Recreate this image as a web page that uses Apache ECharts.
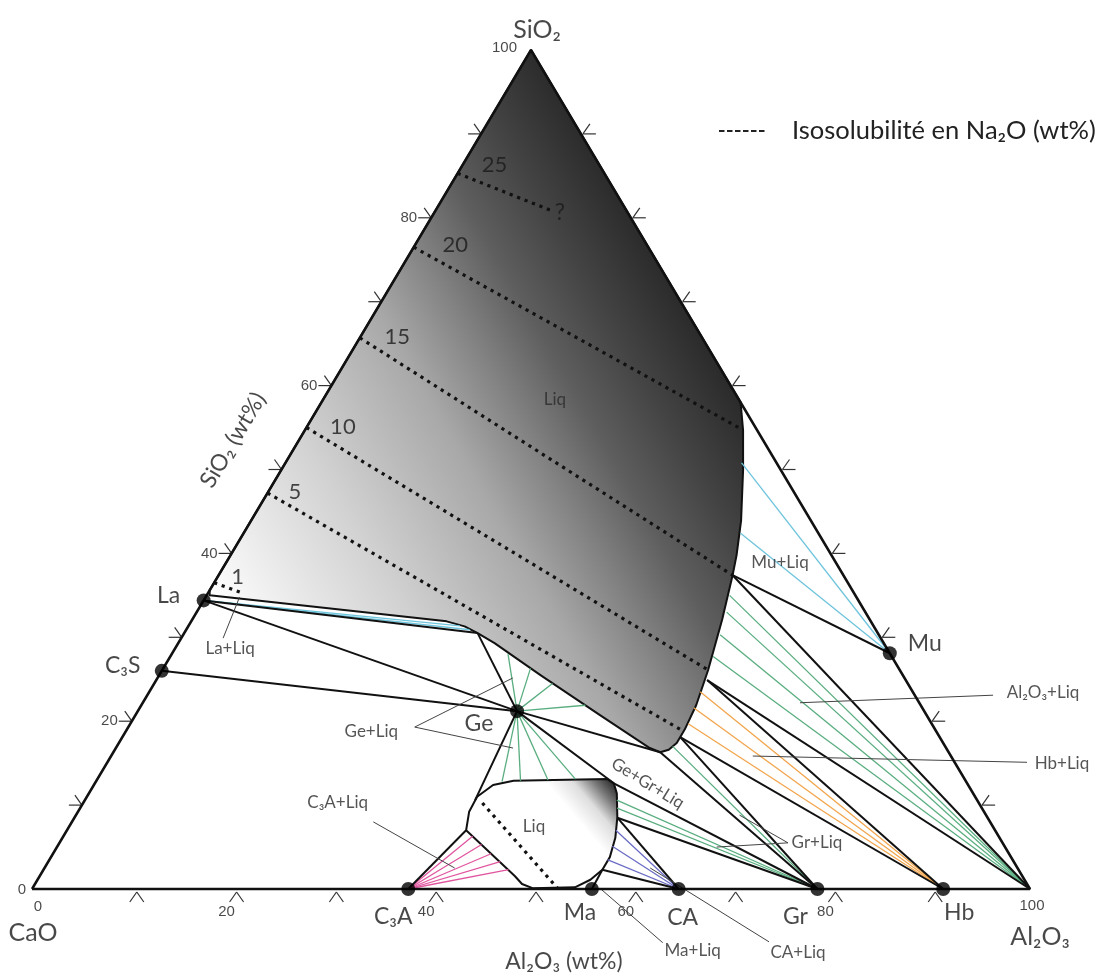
<!DOCTYPE html>
<html><head><meta charset="utf-8">
<script src="https://cdn.jsdelivr.net/npm/echarts@6/dist/echarts.min.js"></script>
<style>html,body{margin:0;padding:0;background:#fff}#c{width:1105px;height:976px}</style>
</head><body><div id="c"></div>
<script>
// All compositions are [Al2O3 wt%, SiO2 wt%]; CaO = 100 - Al2O3 - SiO2
const ISO_NAME = 'Isosolubilité en Na₂O (wt%)';
const cornerNames = ['CaO', 'Al₂O₃', 'SiO₂'];
const cornerComp = [[0, 0], [100, 0], [0, 100]];
const phaseNames = ['La', 'C₃S', 'Ge', 'Mu', 'C₃A', 'Ma', 'CA', 'Gr', 'Hb'];
const phaseComp = [[0, 34.4], [0, 26.0], [38.0, 21.2], [71.9, 28.1], [37.7, 0], [56.1, 0], [64.8, 0], [78.7, 0], [91.3, 0]];
const tickValues = [10, 20, 30, 40, 50, 60, 70, 80, 90];
const tickLabels = [0, 20, 40, 60, 80, 100];

// liquid fields
const liqMain = [[0, 35.6], [0, 100], [42, 58], [43.9, 54.7], [46.3, 49.9], [49.1, 43.9], [50.7, 39.8], [51.5, 37.4], [53.1, 32.1], [54.7, 26.1], [55.6, 21.9], [55.9, 19.0], [55.9, 17.4], [55.5, 16.6], [54.8, 16.3], [53.5, 16.8], [46.6, 20.7], [38.2, 25.5], [31.7, 29.3], [29.4, 30.5], [27.7, 31.3], [25.6, 31.9], [0.3, 35.0]];
const liqSmall = [[40.0, 7.0], [39.2, 9.2], [39.1, 11.0], [40.0, 12.4], [41.8, 12.9], [51.1, 13.1], [52.0, 12.6], [52.9, 11.4], [54.4, 8.5], [55.4, 6.1], [56.0, 3.8], [56.0, 2.3], [55.4, 1.1], [54.3, 0.2], [50.1, 0.1], [48.8, 0.6], [47.6, 1.55]];

// Na2O isosolubility lines
const isoLevels = ['25', '20', '15', '10', '5', '1'];
const isoLines = [[[0, 85.3], [11.5, 80.9]], [[0, 76.5], [43.5, 54.9]], [[0, 65.7], [51.5, 37.4]], [[0, 55.0], [54.7, 26.1]], [[0, 47.2], [55.5, 19.0]], [[0, 36.5], [3.4, 35.3]], [[40.0, 10.25], [52.6, 0.1]]];
const isoLabelPos = [[3.2, 86.3], [4.0, 76.8], [3.7, 65.8], [3.6, 55.1], [2.7, 47.3], [2.0, 37.2]];
const questionPos = [12.6, 80.6];

// liquid points at boundary corners
const L1 = [29.4, 30.5], L2 = [55.2, 24.9], L3 = [51.5, 37.4], L4 = [55.9, 18.1], L5 = [54.8, 16.3];
const S0 = [39.1, 10.6], SA = [40.0, 7.0], S1 = [52.0, 12.6], S2 = [54.4, 8.5], S3 = [56.0, 2.3];

// tie-line end points on the liquidus
const geLiq = [[33.7, 28.0], [36.8, 26.3], [39.9, 24.5], [44.5, 21.9], [40.7, 12.8], [42.5, 12.9], [45.2, 13.0], [47.9, 13.1]];
const al2o3Liq = [[52.4, 35.0], [53.1, 33.0], [53.8, 30.3], [54.4, 27.7]];
const grLiq = [[55.7, 17.0], [53.3, 10.6], [53.8, 9.65]];
const hbLiq = [[55.2, 23.5], [55.5, 21.6], [55.9, 19.7]];
const muLiq = [[45.7, 50.8], [49.8, 42.4]];
const laLiq = [[27.2, 31.35], [28.4, 30.9]];
const c3aLiq = [[41.0, 6.3], [42.4, 5.3], [43.9, 4.2], [45.3, 3.25], [46.6, 2.3]];
const caLiq = [[55.0, 7.0], [55.6, 5.1], [55.9, 3.5]];

// field labels
const regionLabels = ['Liq', 'Liq', 'Mu+Liq', 'La+Liq', 'Ge+Liq', 'C₃A+Liq', 'Ma+Liq', 'CA+Liq', 'Gr+Liq', 'Hb+Liq', 'Al₂O₃+Liq', 'Ge+Gr+Liq'];
const regionLabelPos = [[23.25, 58.3], [46.6, 7.4], [55.5, 38.9], [5.5, 28.7], [24.6, 18.8], [25.5, 10.25], [69.85, -7.3], [80.55, -7.6], [75.9, 5.5], [95.7, 15.0], [89.6, 23.4], [55.4, 12.6]];
const leaderLines = [
  [[4.2, 29.9], [3.4, 34.8]],
  [[28.7, 19.3], [35.6, 25.15]], [[28.7, 19.3], [39.8, 16.8]],
  [[30.2, 8.0], [41.1, 2.5]],
  [[56.85, 0.1], [66.4, -6.4]],
  [[60.7, 2.5], [77.0, -6.3]],
  [[73.0, 5.5], [66.1, 5.0]], [[73.0, 5.5], [66.5, 8.8]],
  [[64.3, 15.85], [92.15, 15.1]],
  [[65.85, 22.2], [84.75, 23.1]]
];
const axisTitles = ['SiO₂ (wt%)', 'Al₂O₃ (wt%)'];
const axisTitlePos = [[-6.6, 53.5], [57.65, -8.7]];

// ---------------------------------------------------------------
const P = {};
phaseNames.forEach((n, i) => P[n] = phaseComp[i]);
const AL = cornerComp[1];
const tern = c => [c[0] + c[1] / 2, c[1]];
const FONT = 'Lato, "Open Sans", sans-serif';
const fan = (from, list) => list.map(p => [from, p]);
const blackLines = [[P.La, L1], [P.La, P.Ge], [P['C₃S'], P.Ge], [L1, P.Ge], [P.Ge, S0], [P['C₃A'], SA], [P.Ge, L5], [L5, P.Gr], [P.Ge, S1], [S1, P.Gr], [S2, P.Gr], [S2, P.CA], [S3, P.CA], [S3, P.Ma], [L4, P.Gr], [L4, P.Hb], [L2, P.Hb], [L2, AL], [L3, AL], [L3, P.Mu]];

function linesSeries(list, color, width, z) {
  return {type: 'lines', coordinateSystem: 'cartesian2d', clip: false, silent: true, z: z,
    lineStyle: {color: color, width: width, opacity: 1, type: 'solid'},
    data: list.map(s => ({coords: s.map(tern)}))};
}
function polySeries(pts, fill, z) {
  return {type: 'custom', coordinateSystem: 'cartesian2d', clip: false, silent: true, z: z, data: [[0, 0]],
    renderItem: (params, api) => ({type: 'polygon', shape: {points: pts.map(p => api.coord(tern(p)))},
      style: {fill: fill, stroke: '#111', lineWidth: 2, lineJoin: 'round'}})};
}
function textSeries(items, z) {
  return {type: 'scatter', clip: false, silent: true, z: z, symbolSize: 0, data: items.map(it => ({
    value: tern(it.c),
    label: {show: true, position: 'inside', formatter: it.t, color: it.color || '#1a1a1a',
      fontFamily: it.font || FONT, fontSize: it.size, align: it.align || 'center', verticalAlign: 'middle',
      offset: it.off || [0, 0], rotate: it.rot || 0}
  }))};
}

const mainGrad = new echarts.graphic.LinearGradient(0, 0.783, 1.048, 0.322, [
  {offset: 0, color: '#ffffff'}, {offset: 0.25, color: '#d2d2d2'}, {offset: 0.45, color: '#a8a8a8'},
  {offset: 0.55, color: '#848484'}, {offset: 0.65, color: '#5e5e5e'}, {offset: 0.75, color: '#444444'},
  {offset: 0.87, color: '#292929'}, {offset: 1, color: '#141414'}]);
const smallGrad = new echarts.graphic.LinearGradient(0.967, 0.018, 0.704, 0.327, [
  {offset: 0, color: '#242424'}, {offset: 0.3, color: '#7a7a7a'}, {offset: 0.6, color: '#dedede'}, {offset: 1, color: '#ffffff'}]);

// texts
const texts = [];
const phaseOff = {'La': [-35, -5], 'C₃S': [-39, -5], 'Ge': [-38, 12], 'Mu': [35, -10], 'C₃A': [-15, 28], 'Ma': [-12, 24], 'CA': [4, 29], 'Gr': [-22, 28], 'Hb': [16, 24]};
phaseNames.forEach((n, i) => texts.push({t: n, c: phaseComp[i], size: 23, off: phaseOff[n]}));
const cornerOff = [[1, 44], [10, 48], [6, -20]];
cornerNames.forEach((n, i) => texts.push({t: n, c: cornerComp[i], size: 25, off: cornerOff[i]}));
isoLevels.forEach((n, i) => texts.push({t: n, c: isoLabelPos[i], size: 22}));
texts.push({t: '?', c: questionPos, size: 23});
regionLabels.forEach((n, i) => texts.push({t: n, c: regionLabelPos[i], size: 17, color: '#2a2a2a', rot: n === 'Ge+Gr+Liq' ? -31.4 : 0}));
axisTitles.forEach((n, i) => texts.push({t: n, c: axisTitlePos[i], size: 23, rot: i === 0 ? 59.3 : 0}));
tickLabels.forEach(v => {
  texts.push({t: String(v), c: [0, v], size: 15, font: '"Liberation Sans", Arial, sans-serif', align: 'right',
    off: v === 0 ? [-6, 1] : (v === 100 ? [-14, -2] : [-14, 0])});
  texts.push({t: String(v), c: [v, 0], size: 15, font: '"Liberation Sans", Arial, sans-serif',
    off: v === 0 ? [6, 18] : (v === 100 ? [2, 17] : [-5, 23])});
});

const tickData = [];
tickValues.forEach(v => {
  tickData.push(tern([0, v]).concat(0));
  tickData.push(tern([v, 0]).concat(1));
  tickData.push(tern([100 - v, v]).concat(2));
});

const series = [
  polySeries(liqMain, mainGrad, 1),
  polySeries(liqSmall, smallGrad, 1),
  linesSeries(fan(P.Ge, geLiq).concat(fan(AL, al2o3Liq), fan(P.Gr, grLiq)), '#5aae80', 1.3, 2),
  linesSeries(fan(P.Hb, hbLiq), '#f2a54c', 1.3, 2),
  linesSeries(fan(P.Mu, muLiq).concat(fan(P.La, laLiq)), '#6ec4dc', 1.3, 2),
  linesSeries(fan(P['C₃A'], c3aLiq), '#e0559f', 1.3, 2),
  linesSeries(fan(P.CA, caLiq), '#6a6cc4', 1.3, 2),
  linesSeries(blackLines, '#111', 2, 3),
  linesSeries(leaderLines, '#444', 1, 3)
];
isoLines.forEach(seg => series.push({type: 'line', name: ISO_NAME, data: seg.map(tern), symbol: 'none', clip: false, silent: true, z: 4,
  lineStyle: {color: '#111', width: 3.2, type: [3.2, 4.8], cap: 'butt'}}));
series.push({type: 'line', data: cornerComp.concat([cornerComp[0]]).map(tern), symbol: 'none', clip: false, silent: true, z: 5,
  lineStyle: {color: '#111', width: 2.5}});
series.push({type: 'custom', coordinateSystem: 'cartesian2d', clip: false, silent: true, z: 5, data: tickData,
  renderItem: (params, api) => {
    const p = api.coord([api.value(0), api.value(1)]);
    const e = api.value(2);
    let o = p, a, b;
    if (e === 0) { a = [-13, 0]; b = [-7, -10]; }
    else if (e === 1) { o = [p[0] + 5, p[1] + 3]; a = [-7, 10]; b = [7, 10]; }
    else { o = [p[0] + 2, p[1]]; a = [13, 0]; b = [7, -10]; }
    const st = {stroke: '#333', lineWidth: 1.2};
    return {type: 'group', children: [
      {type: 'line', shape: {x1: o[0], y1: o[1], x2: o[0] + a[0], y2: o[1] + a[1]}, style: st},
      {type: 'line', shape: {x1: o[0], y1: o[1], x2: o[0] + b[0], y2: o[1] + b[1]}, style: st}]};
  }});
series.push({type: 'scatter', data: phaseComp.map(tern), symbol: 'circle', symbolSize: 14, clip: false, silent: true, z: 6,
  itemStyle: {color: '#000'}});
series.push(textSeries(texts, 7));

const chart = echarts.init(document.getElementById('c'));
chart.setOption({
  animation: false,
  backgroundColor: '#ffffff',
  grid: {left: 32, right: 75, top: 50, bottom: 87},
  xAxis: {type: 'value', min: 0, max: 100, show: false},
  yAxis: {type: 'value', min: 0, max: 100, show: false},
  legend: {data: [ISO_NAME], left: 713, top: 113, itemWidth: 46, itemHeight: 14, selectedMode: false,
    itemStyle: {opacity: 0},
    lineStyle: {type: [5.5, 2.5], width: 2, color: '#222'},
    textStyle: {fontFamily: FONT, fontSize: 25.5, color: '#222', padding: [0, 0, 0, 22]}},
  series: series
});
</script></body></html>
